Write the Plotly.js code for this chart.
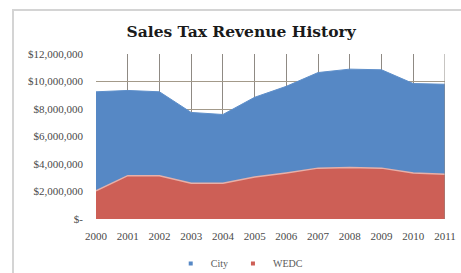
<!DOCTYPE html>
<html>
<head>
<meta charset="utf-8">
<script src="https://cdn.plot.ly/plotly-3.0.1.min.js"></script>
<style>
html,body{margin:0;padding:0;background:#fff;width:461px;height:273px;overflow:hidden;}
#frame{position:absolute;left:12px;top:9px;width:460px;height:270px;border:2px solid #d4d4d4;box-sizing:border-box;}
#chart{position:absolute;left:0;top:0;width:461px;height:273px;}
</style>
</head>
<body>
<div id="frame"></div>
<div id="chart"></div>
<script>
var years = [2000,2001,2002,2003,2004,2005,2006,2007,2008,2009,2010,2011];
var cityValues = [9250000,9350000,9250000,7750000,7600000,8850000,9650000,10650000,10900000,10850000,9850000,9800000];
var wedcValues = [2050000,3150000,3150000,2600000,2600000,3050000,3350000,3700000,3750000,3700000,3350000,3250000];
var yTickVals = [0,2000000,4000000,6000000,8000000,10000000,12000000];
var yTickText = ['$-','$2,000,000','$4,000,000','$6,000,000','$8,000,000','$10,000,000','$12,000,000'];
var cityColor = '#5688c5';
var wedcColor = '#cd5f56';

var traces = [
  {x: years, y: cityValues, name: 'City', type: 'scatter', mode: 'lines', fill: 'tozeroy',
   fillcolor: cityColor, line: {color: '#5e8fca', width: 1}, showlegend: false},
  {x: years, y: wedcValues, name: 'WEDC', type: 'scatter', mode: 'lines', fill: 'tozeroy',
   fillcolor: wedcColor, line: {color: '#e8b0a8', width: 1.5}, showlegend: false},
  {x: [null], y: [null], name: 'City', type: 'scatter', mode: 'markers',
   marker: {symbol: 'square', size: 4, color: cityColor}},
  {x: [null], y: [null], name: 'WEDC', type: 'scatter', mode: 'markers',
   marker: {symbol: 'square', size: 4, color: wedcColor}}
];

var tickFont = {family: 'Liberation Serif, serif', size: 11, color: '#4a4a4a'};

var layout = {
  width: 461, height: 273,
  margin: {l: 96, r: 16, t: 54, b: 54},
  paper_bgcolor: 'rgba(0,0,0,0)',
  plot_bgcolor: '#ffffff',
  title: {text: 'Sales Tax Revenue History', x: 0.523, xanchor: 'center', y: 0.885, yanchor: 'middle',
          font: {family: 'DejaVu Serif, serif', size: 15.5, color: '#1a1a1a', weight: 'bold'}},
  xaxis: {range: [2000, 2011], tickvals: years, ticktext: years.map(String),
          showgrid: true, gridcolor: '#8f8a84', gridwidth: 1, zeroline: false,
          showline: false, ticks: '', ticklabelstandoff: 9, automargin: false,
          tickfont: tickFont},
  yaxis: {range: [0, 12000000], tickvals: yTickVals, ticktext: yTickText,
          showgrid: true, gridcolor: '#a39a8a', gridwidth: 1, zeroline: false,
          showline: false, ticks: '', ticklabelstandoff: 12, automargin: false,
          tickfont: tickFont},
  showlegend: true,
  legend: {orientation: 'h', x: 0.52, xref: 'container', xanchor: 'center',
           y: 0.035, yref: 'container', yanchor: 'middle',
           font: {family: 'Liberation Serif, serif', size: 10, color: '#5a5a5a'},
           itemwidth: 30, traceorder: 'normal'},
  shapes: [
    {type: 'line', xref: 'x', yref: 'paper', x0: 2011, x1: 2011, y0: 0, y1: 1, line: {color: '#8f8a84', width: 1}, layer: 'above'}
  ]
};

Plotly.newPlot('chart', traces, layout, {staticPlot: true, displayModeBar: false});
</script>
</body>
</html>
